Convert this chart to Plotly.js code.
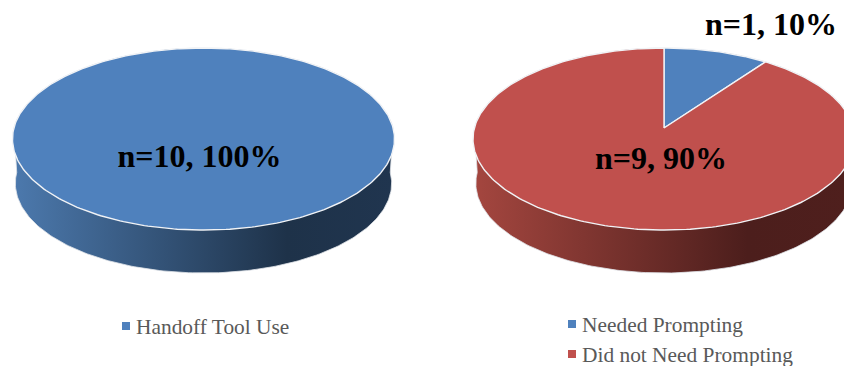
<!DOCTYPE html>
<html>
<head>
<meta charset="utf-8">
<script src="https://cdn.plot.ly/plotly-3.0.1.min.js"></script>
<style>html,body{margin:0;padding:0;background:#fff}#chart{width:844px;height:366px}</style>
</head>
<body>
<div id="chart"></div>
<script>
// Values for each pie
const toolUseCategories = ['Handoff Tool Use'];
const toolUseValues = [10];
const promptingCategories = ['Needed Prompting', 'Did not Need Prompting'];
const promptingValues = [1, 9];

// Series colours
const BLUE = '#4f81bd';
const RED = '#c0504d';
const BLUE_WALL = [[0, '#4c79ad'], [0.72, '#1e3249'], [1, '#20354f']];
const RED_WALL = [[0, '#a4463f'], [0.72, '#4c1e1c'], [1, '#4f1f1d']];

// Tilted disc drawn as a circle under perspective projection
const TILT = 0.121;
const RADIUS_X = 189.6, RADIUS_Y = 89.7;
function rimPoint(cx, cy, scale, turn) {
  const a = turn * 2 * Math.PI;
  const w = 1 + TILT * Math.cos(a);
  return [cx + scale * RADIUS_X * Math.sin(a) / w, cy - scale * RADIUS_Y * Math.cos(a) / w];
}
function arc(cx, cy, scale, from, to) {
  const n = Math.max(8, Math.round((to - from) * 360));
  const pts = [];
  for (let i = 0; i <= n; i++) pts.push(rimPoint(cx, cy, scale, from + (to - from) * i / n));
  return pts;
}
const xy = pts => ({x: pts.map(p => p[0]), y: pts.map(p => p[1])});

// Side wall: lower half of the base, closed along the upper rim of the top
function wallTrace(cx, cy, colorscale) {
  const base = arc(cx, cy + 44.5, 0.985, 0.25, 0.75);
  const top = arc(cx, cy, 1, 0.75, 1.25);
  const outline = base.concat(top).concat([base[0]]);
  return Object.assign(xy(outline), {
    mode: 'lines', line: {color: '#dfe3e8', width: 0.8}, fill: 'toself',
    fillgradient: {type: 'horizontal', colorscale}, hoverinfo: 'skip'
  });
}

// Top face: one wedge per value, clockwise from twelve o'clock
function sliceTraces(cx, cy, values, colors) {
  const total = values.reduce((a, b) => a + b, 0);
  let run = 0;
  return values.map((v, i) => {
    const from = run / total;
    run += v;
    const to = run / total;
    const rim = arc(cx, cy, 1, from, to);
    const pts = v === total ? rim : [[cx, cy]].concat(rim).concat([[cx, cy]]);
    return Object.assign(xy(pts), {
      mode: 'lines', line: {color: '#f1f3f6', width: 1.4}, fill: 'toself',
      fillcolor: colors[i], hoverinfo: 'skip'
    });
  });
}

function labelText(v, values) {
  const total = values.reduce((a, b) => a + b, 0);
  return 'n=' + v + ', ' + Math.round(v / total * 100) + '%';
}

const LEFT_CX = 203.5, RIGHT_CX = 664, APEX_Y = 128;
const SERIF = '"Liberation Serif", serif';

const labelTrace = {
  x: [199.5, 771, 661], y: [159, 27, 161],
  text: [labelText(toolUseValues[0], toolUseValues),
         labelText(promptingValues[0], promptingValues),
         labelText(promptingValues[1], promptingValues)],
  mode: 'text', textposition: 'middle center',
  textfont: {family: SERIF, size: 32, color: '#000', weight: 700},
  hoverinfo: 'skip'
};

// Legend keys and their captions
const keyTrace = {
  x: [126, 572, 572], y: [326, 324, 354],
  mode: 'markers',
  marker: {symbol: 'square', size: 8, color: [BLUE, BLUE, RED]},
  hoverinfo: 'skip'
};
const captionTrace = {
  x: [136, 582, 582], y: [329, 327, 357],
  text: toolUseCategories.concat(promptingCategories),
  mode: 'text', textposition: 'middle right',
  textfont: {family: SERIF, size: 21.4, color: '#595959'},
  hoverinfo: 'skip'
};

const data = [
  wallTrace(LEFT_CX, APEX_Y, BLUE_WALL),
  ...sliceTraces(LEFT_CX, APEX_Y, toolUseValues, [BLUE]),
  wallTrace(RIGHT_CX, APEX_Y, RED_WALL),
  ...sliceTraces(RIGHT_CX, APEX_Y, promptingValues, [BLUE, RED]),
  labelTrace,
  keyTrace,
  captionTrace
];

const hidden = {visible: false, fixedrange: true};
const layout = {
  width: 844, height: 366,
  margin: {l: 0, r: 0, t: 0, b: 0},
  paper_bgcolor: '#fff', plot_bgcolor: '#fff',
  showlegend: false,
  xaxis: Object.assign({range: [0, 844]}, hidden),
  yaxis: Object.assign({range: [366, 0]}, hidden)
};
Plotly.newPlot('chart', data, layout, {staticPlot: true, displayModeBar: false});
</script>
</body>
</html>
